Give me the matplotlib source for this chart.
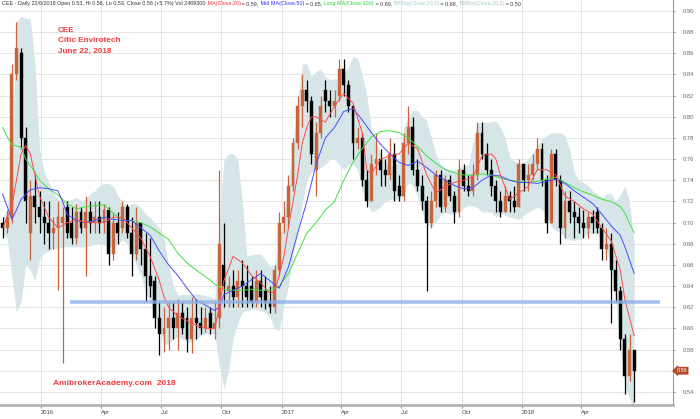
import numpy as np
import pandas as pd
import matplotlib
matplotlib.use('Agg')
import matplotlib.pyplot as plt
import matplotlib.dates as mdates

plt.rcParams['font.family'] = ['Liberation Sans', 'DejaVu Sans']

# weekly bars (week index 0 = week of 2015-11-04)
weeks = pd.date_range('2015-11-04', periods=138, freq='7D')

opens = [0.70, 0.695, 0.705, 0.84, 0.86, 0.78, 0.69, 0.725, 0.715, 0.705,
         0.70, 0.69, 0.695, 0.70, 0.715, 0.70, 0.685, 0.71, 0.695, 0.71,
         0.70, 0.705, 0.70, 0.712, 0.67, 0.70, 0.695, 0.715, 0.69, 0.67,
         0.70, 0.675, 0.65, 0.645, 0.61, 0.595, 0.60, 0.61, 0.60, 0.615,
         0.61, 0.59, 0.61, 0.605, 0.60, 0.615, 0.60, 0.61, 0.66, 0.635,
         0.64, 0.63, 0.645, 0.64, 0.64, 0.625, 0.645, 0.635, 0.625, 0.62,
         0.655, 0.70, 0.705, 0.735, 0.775, 0.81, 0.825, 0.815, 0.75, 0.785,
         0.825, 0.815, 0.81, 0.82, 0.845, 0.83, 0.81, 0.775, 0.78, 0.74,
         0.72, 0.755, 0.76, 0.75, 0.745, 0.765, 0.735, 0.725, 0.775, 0.79,
         0.75, 0.735, 0.72, 0.70, 0.72, 0.745, 0.715, 0.74, 0.725, 0.71,
         0.75, 0.735, 0.73, 0.745, 0.785, 0.765, 0.75, 0.735, 0.72, 0.71,
         0.725, 0.72, 0.715, 0.755, 0.74, 0.745, 0.755, 0.77, 0.74, 0.70,
         0.765, 0.74, 0.695, 0.72, 0.71, 0.705, 0.70, 0.695, 0.705, 0.71,
         0.695, 0.675, 0.68, 0.655, 0.635, 0.59, 0.555, 0.58]
highs = [0.705, 0.712, 0.85, 0.89, 0.865, 0.79, 0.74, 0.745, 0.73, 0.72,
         0.72, 0.705, 0.72, 0.715, 0.72, 0.715, 0.718, 0.715, 0.725, 0.72,
         0.72, 0.72, 0.718, 0.715, 0.71, 0.71, 0.72, 0.718, 0.705, 0.715,
         0.70, 0.69, 0.685, 0.65, 0.625, 0.62, 0.625, 0.625, 0.628, 0.625,
         0.62, 0.63, 0.628, 0.62, 0.62, 0.62, 0.625, 0.75, 0.70, 0.65,
         0.655, 0.655, 0.665, 0.66, 0.65, 0.655, 0.655, 0.65, 0.64, 0.66,
         0.71, 0.72, 0.745, 0.78, 0.82, 0.84, 0.835, 0.82, 0.795, 0.82,
         0.835, 0.825, 0.825, 0.855, 0.855, 0.835, 0.81, 0.79, 0.785, 0.75,
         0.765, 0.785, 0.77, 0.76, 0.78, 0.775, 0.745, 0.785, 0.81, 0.80,
         0.76, 0.745, 0.725, 0.73, 0.75, 0.75, 0.745, 0.745, 0.73, 0.76,
         0.755, 0.745, 0.755, 0.795, 0.795, 0.775, 0.76, 0.74, 0.73, 0.735,
         0.73, 0.735, 0.76, 0.755, 0.755, 0.765, 0.78, 0.775, 0.745, 0.77,
         0.77, 0.745, 0.73, 0.73, 0.72, 0.715, 0.712, 0.71, 0.712, 0.715,
         0.70, 0.695, 0.69, 0.665, 0.64, 0.595, 0.595, 0.58]
lows = [0.685, 0.69, 0.70, 0.835, 0.77, 0.70, 0.665, 0.70, 0.69, 0.68,
        0.675, 0.675, 0.636, 0.567, 0.685, 0.68, 0.68, 0.69, 0.65, 0.69,
        0.69, 0.69, 0.69, 0.66, 0.665, 0.68, 0.69, 0.685, 0.65, 0.665,
        0.66, 0.625, 0.63, 0.60, 0.575, 0.578, 0.58, 0.59, 0.58, 0.595,
        0.578, 0.577, 0.59, 0.595, 0.597, 0.595, 0.59, 0.60, 0.62, 0.62,
        0.62, 0.62, 0.62, 0.62, 0.62, 0.62, 0.62, 0.618, 0.615, 0.615,
        0.65, 0.69, 0.695, 0.73, 0.77, 0.79, 0.805, 0.755, 0.725, 0.78,
        0.805, 0.80, 0.80, 0.815, 0.82, 0.805, 0.76, 0.77, 0.735, 0.715,
        0.72, 0.745, 0.735, 0.735, 0.74, 0.72, 0.72, 0.72, 0.765, 0.745,
        0.73, 0.712, 0.635, 0.695, 0.715, 0.71, 0.71, 0.72, 0.70, 0.705,
        0.73, 0.725, 0.725, 0.74, 0.76, 0.745, 0.725, 0.71, 0.705, 0.71,
        0.71, 0.71, 0.715, 0.73, 0.73, 0.74, 0.75, 0.735, 0.69, 0.70,
        0.735, 0.68, 0.685, 0.70, 0.685, 0.69, 0.685, 0.685, 0.69, 0.69,
        0.665, 0.665, 0.605, 0.625, 0.58, 0.538, 0.55, 0.53]
closes = [0.695, 0.705, 0.84, 0.865, 0.78, 0.72, 0.725, 0.715, 0.705, 0.70,
          0.69, 0.695, 0.705, 0.705, 0.69, 0.685, 0.71, 0.695, 0.71, 0.70,
          0.705, 0.70, 0.712, 0.67, 0.70, 0.69, 0.715, 0.69, 0.67, 0.70,
          0.675, 0.65, 0.64, 0.61, 0.595, 0.60, 0.61, 0.60, 0.615, 0.60,
          0.59, 0.61, 0.605, 0.60, 0.61, 0.60, 0.605, 0.68, 0.64, 0.64,
          0.63, 0.645, 0.64, 0.63, 0.625, 0.645, 0.63, 0.625, 0.62, 0.655,
          0.70, 0.705, 0.735, 0.775, 0.81, 0.825, 0.815, 0.765, 0.785, 0.81,
          0.815, 0.81, 0.815, 0.845, 0.83, 0.81, 0.775, 0.78, 0.74, 0.72,
          0.755, 0.76, 0.75, 0.745, 0.765, 0.73, 0.725, 0.775, 0.79, 0.75,
          0.735, 0.72, 0.70, 0.72, 0.745, 0.715, 0.74, 0.725, 0.71, 0.75,
          0.735, 0.73, 0.745, 0.785, 0.765, 0.75, 0.735, 0.72, 0.71, 0.725,
          0.72, 0.715, 0.755, 0.74, 0.745, 0.755, 0.77, 0.74, 0.70, 0.765,
          0.74, 0.695, 0.72, 0.71, 0.705, 0.70, 0.695, 0.705, 0.70, 0.695,
          0.675, 0.68, 0.655, 0.635, 0.59, 0.555, 0.58, 0.56]

# Bollinger band edges per week
bb_top = [0.705, 0.712, 0.77, 0.89, 0.895, 0.893, 0.893, 0.85, 0.77, 0.748,
          0.738, 0.728, 0.722, 0.721, 0.721, 0.722, 0.724, 0.721, 0.722, 0.728,
          0.73, 0.735, 0.737, 0.737, 0.735, 0.725, 0.72, 0.716, 0.718, 0.718,
          0.714, 0.708, 0.705, 0.70, 0.695, 0.685, 0.66, 0.64, 0.632, 0.632,
          0.632, 0.632, 0.633, 0.632, 0.631, 0.63, 0.628, 0.70, 0.759, 0.765,
          0.765, 0.76, 0.72, 0.668, 0.67, 0.67, 0.67, 0.665, 0.658, 0.66,
          0.683, 0.705, 0.74, 0.775, 0.815, 0.85, 0.85, 0.838, 0.843, 0.845,
          0.838, 0.835, 0.836, 0.835, 0.84, 0.847, 0.857, 0.855, 0.84, 0.82,
          0.79, 0.775, 0.765, 0.757, 0.753, 0.753, 0.758, 0.79, 0.80, 0.806,
          0.806, 0.80, 0.797, 0.78, 0.765, 0.755, 0.752, 0.75, 0.75, 0.752,
          0.753, 0.755, 0.775, 0.794, 0.795, 0.795, 0.795, 0.796, 0.79, 0.78,
          0.762, 0.758, 0.756, 0.757, 0.76, 0.766, 0.772, 0.78, 0.782, 0.785,
          0.785, 0.785, 0.782, 0.77, 0.748, 0.74, 0.738, 0.735, 0.73, 0.727,
          0.724, 0.727, 0.728, 0.72, 0.727, 0.735, 0.72, 0.68]
bb_bot = [0.69, 0.685, 0.65, 0.615, 0.625, 0.66, 0.655, 0.645, 0.665, 0.671,
          0.673, 0.675, 0.676, 0.677, 0.677, 0.677, 0.677, 0.677, 0.677, 0.678,
          0.68, 0.68, 0.679, 0.678, 0.677, 0.68, 0.684, 0.68, 0.671, 0.66,
          0.65, 0.635, 0.625, 0.614, 0.60, 0.585, 0.585, 0.59, 0.592, 0.59,
          0.587, 0.587, 0.59, 0.593, 0.595, 0.595, 0.595, 0.565, 0.543, 0.56,
          0.59, 0.605, 0.615, 0.617, 0.618, 0.618, 0.617, 0.615, 0.61, 0.60,
          0.598, 0.62, 0.64, 0.67, 0.69, 0.718, 0.74, 0.748, 0.75, 0.752,
          0.755, 0.76, 0.76, 0.755, 0.75, 0.755, 0.755, 0.75, 0.73, 0.72,
          0.71, 0.712, 0.715, 0.72, 0.722, 0.722, 0.722, 0.725, 0.738, 0.735,
          0.725, 0.71, 0.698, 0.696, 0.70, 0.707, 0.71, 0.708, 0.708, 0.71,
          0.714, 0.716, 0.716, 0.714, 0.71, 0.71, 0.71, 0.705, 0.709, 0.707,
          0.705, 0.704, 0.703, 0.707, 0.71, 0.712, 0.715, 0.712, 0.708, 0.696,
          0.693, 0.69, 0.685, 0.684, 0.683, 0.684, 0.686, 0.69, 0.69, 0.69,
          0.683, 0.675, 0.655, 0.627, 0.58, 0.545, 0.535, 0.52]

# moving averages as (week index, value)
ma20 = [(0, 0.695), (2, 0.715), (3, 0.74), (4, 0.765), (5, 0.773), (6, 0.765), (7, 0.745),
        (8, 0.725), (10, 0.705), (12, 0.695), (14, 0.70), (16, 0.703), (18, 0.70), (20, 0.70),
        (22, 0.70), (24, 0.705), (26, 0.705), (27, 0.70), (28, 0.695), (30, 0.685), (32, 0.668),
        (34, 0.645), (35, 0.63), (36, 0.62), (38, 0.612), (40, 0.607), (42, 0.603), (44, 0.60),
        (46, 0.60), (47, 0.62), (48, 0.645), (50, 0.668), (52, 0.662), (54, 0.65), (56, 0.643),
        (58, 0.633), (59, 0.635), (60, 0.65), (61, 0.668), (62, 0.695), (63, 0.72), (64, 0.745),
        (65, 0.775), (66, 0.79), (67, 0.80), (68, 0.80), (70, 0.795), (72, 0.81), (74, 0.822),
        (76, 0.813), (78, 0.785), (79, 0.75), (80, 0.746), (82, 0.76), (84, 0.763), (86, 0.765),
        (88, 0.775), (90, 0.77), (92, 0.745), (94, 0.728), (96, 0.734), (98, 0.738), (100, 0.74),
        (102, 0.743), (104, 0.763), (106, 0.765), (107, 0.76), (108, 0.745), (110, 0.722),
        (112, 0.728), (114, 0.734), (116, 0.75), (118, 0.75), (120, 0.745), (122, 0.725),
        (124, 0.72), (126, 0.713), (128, 0.708), (130, 0.695), (132, 0.683), (134, 0.655),
        (135, 0.627), (137, 0.593)]
ma50 = [(0, 0.727), (1, 0.715), (2, 0.703), (3, 0.712), (4, 0.722), (6, 0.731), (8, 0.733),
        (10, 0.732), (12, 0.73), (13, 0.72), (14, 0.708), (16, 0.702), (18, 0.70), (20, 0.702),
        (22, 0.705), (24, 0.703), (26, 0.702), (28, 0.702), (30, 0.695), (32, 0.688), (34, 0.673),
        (36, 0.66), (38, 0.65), (40, 0.638), (42, 0.627), (44, 0.622), (46, 0.617), (47, 0.62),
        (48, 0.632), (50, 0.636), (52, 0.64), (54, 0.646), (56, 0.652), (58, 0.645), (60, 0.638),
        (62, 0.658), (64, 0.69), (66, 0.72), (68, 0.755), (70, 0.78), (72, 0.79), (74, 0.805),
        (76, 0.808), (78, 0.797), (80, 0.785), (82, 0.774), (84, 0.765), (86, 0.757), (88, 0.754),
        (90, 0.758), (92, 0.752), (94, 0.745), (96, 0.74), (98, 0.735), (100, 0.732), (102, 0.733),
        (104, 0.74), (106, 0.745), (108, 0.744), (110, 0.74), (112, 0.738), (114, 0.738),
        (116, 0.737), (118, 0.739), (120, 0.741), (122, 0.737), (124, 0.73), (126, 0.724),
        (128, 0.718), (130, 0.708), (132, 0.697), (134, 0.688), (135, 0.677), (137, 0.652)]
ma100 = [(0, 0.79), (1, 0.781), (2, 0.774), (4, 0.771), (5, 0.76), (7, 0.748), (8, 0.74),
         (10, 0.732), (12, 0.726), (14, 0.718), (16, 0.713), (18, 0.715), (20, 0.716), (22, 0.717),
         (24, 0.709), (26, 0.702), (28, 0.702), (30, 0.70), (32, 0.696), (34, 0.69), (36, 0.684),
         (38, 0.671), (40, 0.662), (42, 0.655), (44, 0.649), (46, 0.642), (48, 0.637), (50, 0.636),
         (52, 0.636), (54, 0.637), (56, 0.636), (58, 0.636), (60, 0.64), (62, 0.652), (64, 0.671),
         (66, 0.69), (68, 0.70), (70, 0.712), (72, 0.72), (74, 0.74), (76, 0.757), (78, 0.77),
         (80, 0.781), (82, 0.786), (84, 0.787), (86, 0.785), (88, 0.78), (90, 0.772), (92, 0.763),
         (94, 0.756), (96, 0.75), (98, 0.747), (100, 0.745), (102, 0.745), (104, 0.746),
         (106, 0.745), (108, 0.742), (110, 0.74), (112, 0.739), (114, 0.738), (116, 0.739),
         (118, 0.741), (120, 0.743), (122, 0.738), (124, 0.733), (126, 0.729), (128, 0.726),
         (130, 0.722), (132, 0.72), (134, 0.715), (135, 0.709), (137, 0.69)]

support_level = 0.625
support_span = ('2016-02-14', '2018-07-30')

tick_dates = ['2016-01-01', '2016-04-01', '2016-07-01', '2016-10-01', '2017-01-01',
              '2017-04-01', '2017-07-01', '2017-10-01', '2018-01-01', '2018-04-01']
tick_labels = ['2016', 'Apr', 'Jul', 'Oct', '2017', 'Apr', 'Jul', 'Oct', '2018', 'Apr']

header = [('CEE - Daily 22/6/2018 Open 0.53, Hi 0.56, Lo 0.53, Close 0.56 (+5.7%) Vol 2469300', '#333333'),
          (' MA(Close,20)', '#ff3030'), (' = 0.59,', '#333333'),
          (' Mid MA(Close,50)', '#3030ff'), (' = 0.65,', '#333333'),
          (' Long MA(Close,100)', '#30d030'), (' = 0.69,', '#333333'),
          (' BBTop(Close,20,2)', '#a8c8cc'), (' = 0.68,', '#333333'),
          (' BBBot(Close,20,2)', '#a8c8cc'), (' = 0.50', '#333333')]

last_close = 0.56

# ---------------------------------------------------------------
fig = plt.figure(figsize=(7, 4.19), dpi=100)
ax = fig.add_axes([0, 14 / 419, 673 / 700, 1 - 14 / 419])

x = mdates.date2num(weeks)
o = np.array(opens); h = np.array(highs); l = np.array(lows); c = np.array(closes)

ax.fill_between(x, bb_bot, bb_top, color='#d6e6e8', lw=0, zorder=1)

up = c >= o
up_col = '#c8643c'
cols = np.where(up, up_col, 'black')
ax.vlines(x, l, h, colors=cols, lw=0.9, zorder=3)
body_lo = np.minimum(o, c)
body_h = np.maximum(np.abs(c - o), 0.002)
ax.bar(x, body_h, bottom=body_lo, width=4.4, color=cols, edgecolor=cols, lw=0.3, zorder=3)

for data, col in [(ma100, '#40e040'), (ma50, '#4a4aff'), (ma20, '#ff4a4a')]:
    kk = [p[0] for p in data]
    vv = [p[1] for p in data]
    ax.plot(x[kk], vv, color=col, lw=0.7, zorder=4)

s0, s1 = mdates.date2num(pd.to_datetime(list(support_span)))
ax.plot([s0, s1], [support_level, support_level], color='#8fb0e8', lw=2.6, alpha=0.8,
        solid_capstyle='butt', zorder=5)

# axes cosmetics
ax.set_xlim(mdates.date2num(pd.Timestamp('2015-10-31')), mdates.date2num(pd.Timestamp('2018-08-18')))
ax.set_ylim(0.5276, 0.9104)
yt = np.arange(0.54, 0.905, 0.02)
ax.set_yticks(yt)
# the last-price tag covers the 0.56 label
ax.set_yticklabels(['' if abs(v - last_close) < 1e-6 else '%.2f' % v for v in yt])
ax.yaxis.tick_right()
ax.tick_params(axis='y', length=1.5, pad=5.5, labelsize=4.2, colors='#666666', width=0.5)
ax.set_xticks(mdates.date2num(pd.to_datetime(tick_dates)))
ax.set_xticklabels(tick_labels)
for t in ax.get_xticklabels():
    t.set_horizontalalignment('left')
ax.tick_params(axis='x', length=2.5, pad=0.8, labelsize=4.2, colors='#444444', width=0.5)
ax.grid(True, color='#e4e4e4', lw=0.7, zorder=0)
ax.set_axisbelow(True)
for side in ['top', 'left']:
    ax.spines[side].set_visible(False)
ax.spines['right'].set_color('#999999')
ax.spines['right'].set_linewidth(0.8)
ax.spines['bottom'].set_color('#b4b4b4')
ax.spines['bottom'].set_linewidth(2)

# last price marker
ax.annotate('%.2f' % last_close, xy=(1, last_close), xycoords=('axes fraction', 'data'),
            xytext=(2.5, 0), textcoords='offset points', ha='left', va='center',
            fontsize=4, color='white', annotation_clip=False,
            bbox=dict(boxstyle='larrow,pad=0.25', fc='#b8482a', ec='none'))

# header line
t = fig.text(2 / 700, 1 - 4 / 419, header[0][0], color=header[0][1], fontsize=3.9, va='center')
for s, col in header[1:]:
    t = ax.annotate(s, xy=(1, 0), xycoords=t, ha='left', va='bottom', color=col,
                    fontsize=3.9, annotation_clip=False)

# chart notes
for i, s in enumerate(['CEE', 'Citic Envirotech', 'June 22, 2018']):
    fig.text(58 / 700, 1 - (30 + 10.5 * i) / 419, s, color='#f23c3c', fontsize=5.9,
             fontweight='bold', va='center')
fig.text(53 / 700, 1 - 383 / 419, 'AmibrokerAcademy.com  2018', color='#f23c3c', fontsize=6,
         fontweight='bold', va='center')

fig.savefig('out.png', dpi=100, facecolor='white')
